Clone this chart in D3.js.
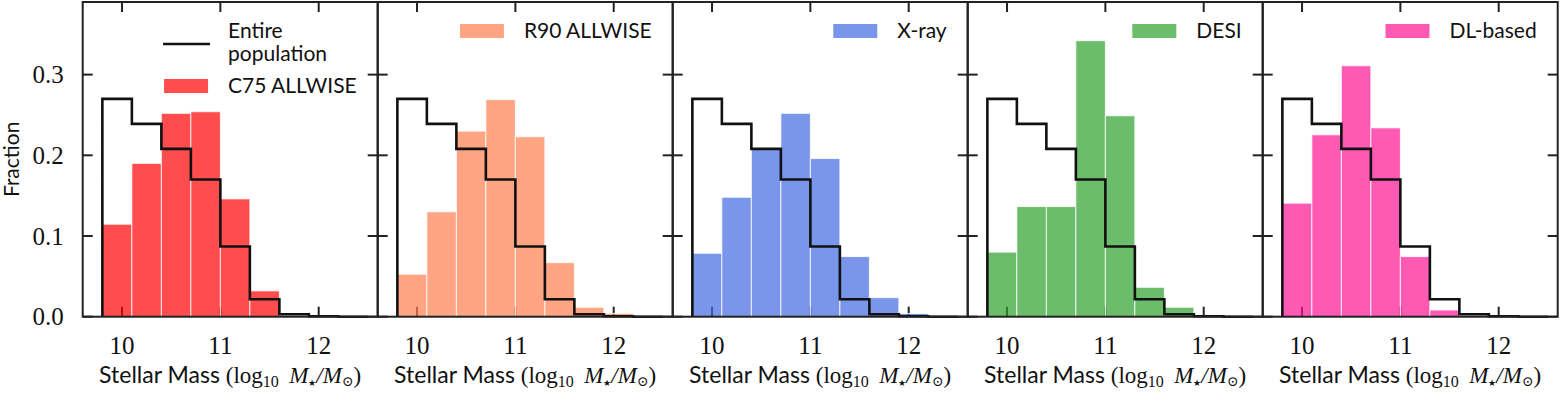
<!DOCTYPE html>
<html>
<head>
<meta charset="utf-8">
<script src="https://cdn.jsdelivr.net/npm/d3@7"></script>
<style>
  body { margin: 0; background: #fff; overflow: hidden; }
  svg { display: block; }
  .sans { font-family: "Lato", "DejaVu Sans", sans-serif; }
  .serif { font-family: "Liberation Serif", "DejaVu Serif", serif; }
</style>
</head>
<body>
<svg class="visSVG"></svg>
<script>
const svgWidth = 1561;
const svgHeight = 393;

// histogram bins (log10 stellar mass)
const binEdges = [9.8, 10.1, 10.4, 10.7, 11.0, 11.3, 11.6, 11.9, 12.2, 12.5];

// fraction per bin
const entirePop = [0.270, 0.239, 0.208, 0.170, 0.087, 0.0216, 0.003, 0.0005, 0];
const c75 = [0.1146, 0.190, 0.252, 0.254, 0.146, 0.032, 0.001, 0, 0];
const r90 = [0.0526, 0.130, 0.230, 0.269, 0.223, 0.067, 0.0117, 0.0041, 0];
const xray = [0.0786, 0.148, 0.209, 0.252, 0.196, 0.0745, 0.0236, 0.004, 0];
const desi = [0.080, 0.1365, 0.1365, 0.342, 0.249, 0.0364, 0.0117, 0, 0];
const dlBased = [0.1407, 0.2254, 0.311, 0.234, 0.0745, 0.0083, 0, 0, 0];

const sampleNames = ["C75 ALLWISE", "R90 ALLWISE", "X-ray", "DESI", "DL-based"];
const sampleValues = [c75, r90, xray, desi, dlBased];
const sampleColours = ["red", "coral", "royalblue", "#2ca02c", "deeppink"];

const xTicks = [10, 11, 12];
const yTicks = [0, 0.1, 0.2, 0.3];

var margin = { top: 2, left: 82.7, bottom: 393 - 316.7 };
var panelWidth = 295;
var innerHeight = svgHeight - margin.top - margin.bottom;
var tickLen = 10;
var axisColour = "#222";

const svg = d3.select('.visSVG')
    .attr("width", svgWidth)
    .attr("height", svgHeight);

const xScale = d3.scaleLinear().domain([9.6, 12.6]).range([0, panelWidth]);
const yScale = d3.scaleLinear().domain([0, 0.39]).range([innerHeight, 0]);

// y label
svg.append("text")
    .attr("class", "sans")
    .attr("transform", "translate(19," + (margin.top + innerHeight / 2) + ") rotate(-90)")
    .attr("text-anchor", "middle")
    .attr("font-size", 21)
    .attr("fill", "#111")
    .text("Fraction");

sampleNames.forEach(function (name, i) {
    var graph = svg.append("g")
        .attr("transform", "translate(" + (margin.left + i * panelWidth) + "," + margin.top + ")");

    // TICKS (inward, all four sides)
    var ticks = graph.append("g")
        .attr("stroke", axisColour)
        .attr("stroke-width", 2);
    xTicks.forEach(function (t) {
        ticks.append("line").attr("x1", xScale(t)).attr("x2", xScale(t))
            .attr("y1", innerHeight).attr("y2", innerHeight - tickLen);
        ticks.append("line").attr("x1", xScale(t)).attr("x2", xScale(t))
            .attr("y1", 0).attr("y2", tickLen);
    });
    yTicks.forEach(function (t) {
        ticks.append("line").attr("x1", 0).attr("x2", tickLen)
            .attr("y1", yScale(t)).attr("y2", yScale(t));
        ticks.append("line").attr("x1", panelWidth).attr("x2", panelWidth - tickLen)
            .attr("y1", yScale(t)).attr("y2", yScale(t));
    });

    // BARS
    var values = sampleValues[i];
    graph.append("g")
        .selectAll("rect")
        .data(values.map(function (v, j) { return { x0: binEdges[j], x1: binEdges[j + 1], v: v }; })
            .filter(function (d) { return d.v > 0; }))
        .enter().append("rect")
            .attr("x", function (d) { return xScale(d.x0); })
            .attr("y", function (d) { return yScale(d.v); })
            .attr("width", function (d) { return xScale(d.x1) - xScale(d.x0); })
            .attr("height", function (d) { return innerHeight - yScale(d.v); })
            .attr("fill", sampleColours[i])
            .attr("fill-opacity", 0.7)
            .attr("stroke", "#fff")
            .attr("stroke-opacity", 0.8)
            .attr("stroke-width", 1);

    // STEP OUTLINE, entire population
    var pts = [[binEdges[0], 0]];
    entirePop.forEach(function (v, j) {
        pts.push([binEdges[j], v]);
        pts.push([binEdges[j + 1], v]);
    });
    pts.push([binEdges[binEdges.length - 1], 0]);
    graph.append("path")
        .datum(pts)
        .attr("fill", "none")
        .attr("stroke", "#111")
        .attr("stroke-width", 2.6)
        .attr("stroke-linejoin", "miter")
        .attr("d", d3.line().x(function (d) { return xScale(d[0]); }).y(function (d) { return yScale(d[1]); }));

    // FRAME
    graph.append("rect")
        .attr("x", 0).attr("y", 0)
        .attr("width", panelWidth).attr("height", innerHeight)
        .attr("fill", "none")
        .attr("stroke", axisColour)
        .attr("stroke-width", 2);

    // X tick labels
    graph.append("g")
        .selectAll("text")
        .data(xTicks).enter().append("text")
            .attr("class", "serif")
            .attr("x", function (d) { return xScale(d); })
            .attr("y", 352)
            .attr("text-anchor", "middle")
            .attr("font-size", 25)
            .attr("fill", "#111")
            .text(function (d) { return d; });

    // Y tick labels (first panel only)
    if (i === 0) {
        graph.append("g")
            .selectAll("text")
            .data(yTicks).enter().append("text")
                .attr("class", "serif")
                .attr("x", -19)
                .attr("y", function (d) { return yScale(d) + 8.5; })
                .attr("text-anchor", "end")
                .attr("font-size", 25)
                .attr("fill", "#111")
                .text(function (d) { return d3.format(".1f")(d); });
    }

    // X axis label
    var lab = graph.append("text")
        .attr("x", panelWidth / 2)
        .attr("y", 381)
        .attr("text-anchor", "middle")
        .attr("fill", "#111");
    lab.append("tspan").attr("class", "sans").attr("font-size", 23).text("Stellar Mass ");
    lab.append("tspan").attr("class", "serif").attr("font-size", 23).text("(log");
    lab.append("tspan").attr("class", "serif").attr("font-size", 16).attr("dy", 4).text("10");
    lab.append("tspan").attr("class", "serif").attr("font-size", 23).attr("dy", -4).attr("font-style", "italic").text("\u2009 M");
    lab.append("tspan").attr("class", "serif").attr("font-size", 9).attr("dy", 3).text("\u2605");
    lab.append("tspan").attr("class", "serif").attr("font-size", 23).attr("dy", -3).attr("font-style", "italic").text("/M");
    lab.append("tspan").attr("class", "serif").attr("font-size", 14).attr("dy", 3).text("\u2299");
    lab.append("tspan").attr("class", "serif").attr("font-size", 23).attr("dy", -3).text(")");

    // LEGEND
    var leg = graph.append("g").attr("class", "sans").attr("font-size", 21).attr("fill", "#111");
    var rightEdge = panelWidth - 21;
    if (i === 0) {
        var t = leg.append("text").attr("x", rightEdge).attr("y", 91)
            .attr("text-anchor", "end").text(name);
        var textStart = rightEdge - t.node().getComputedTextLength();
        leg.append("text").attr("x", textStart).attr("y", 36).text("Entire");
        leg.append("text").attr("x", textStart).attr("y", 59).text("population");
        leg.append("line")
            .attr("x1", textStart - 65).attr("x2", textStart - 18)
            .attr("y1", 42).attr("y2", 42)
            .attr("stroke", "#111").attr("stroke-width", 2.6);
        leg.append("rect")
            .attr("x", textStart - 64).attr("y", 77)
            .attr("width", 44).attr("height", 14)
            .attr("fill", sampleColours[i]).attr("fill-opacity", 0.7);
    } else {
        var t2 = leg.append("text").attr("x", rightEdge).attr("y", 36)
            .attr("text-anchor", "end").text(name);
        var start2 = rightEdge - t2.node().getComputedTextLength();
        leg.append("rect")
            .attr("x", start2 - 64).attr("y", 22)
            .attr("width", 44).attr("height", 14)
            .attr("fill", sampleColours[i]).attr("fill-opacity", 0.7);
    }
});
</script>
</body>
</html>
